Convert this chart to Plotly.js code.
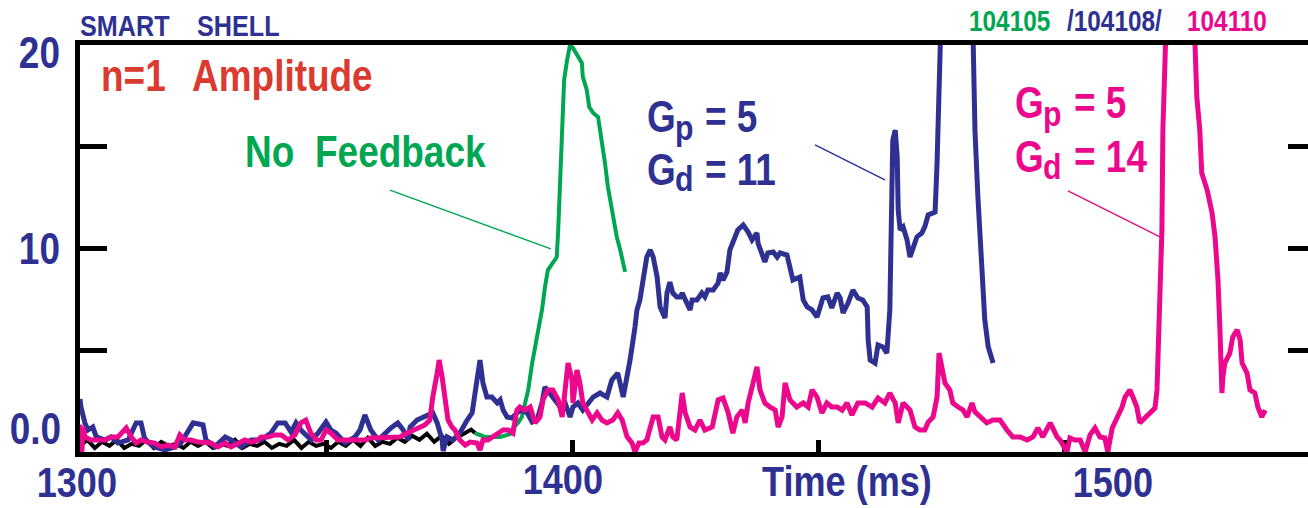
<!DOCTYPE html>
<html>
<head>
<meta charset="utf-8">
<script src="https://cdn.plot.ly/plotly-3.0.1.min.js"></script>
<style>
  html, body { margin: 0; padding: 0; background: #ffffff; overflow: hidden; }
  #chart { width: 1320px; height: 508px; }
</style>
</head>
<body>
<div id="chart"></div>
<script>
// n=1 mode amplitude versus time for three smart-shell discharges.
// Each series is a list of [time (ms), amplitude] samples.

// Reference trace running along the floor before the mode grows.
const baselineTrace = [
  [1300.0,0.3],[1301.5,0.6],[1303.0,0.2],[1304.5,0.5],[1306.0,0.3],[1307.5,0.6],[1309.0,0.2],
  [1310.5,0.4],[1312.0,0.3],[1313.5,0.6],[1315.0,0.2],[1316.5,0.5],[1318.0,0.3],[1319.5,0.4],
  [1321.0,0.2],[1322.5,0.5],[1324.0,0.3],[1325.5,0.5],[1327.0,0.2],[1328.5,0.4],[1330.0,0.3],
  [1331.5,0.6],[1333.0,0.2],[1334.5,0.4],[1336.0,0.3],[1337.5,0.5],[1339.0,0.2],[1340.5,0.4],
  [1342.0,0.3],[1343.5,0.6],[1345.0,0.2],[1346.5,0.5],[1348.0,0.3],[1349.5,0.4],[1351.0,0.2],
  [1352.5,0.5],[1354.0,0.3],[1355.5,0.6],[1357.0,0.3],[1358.5,0.7],[1360.0,0.3],[1361.5,0.5],
  [1363.0,0.4],[1364.5,0.7],[1366.0,0.5],[1367.5,0.8],[1369.0,0.6],[1370.5,0.9],[1372.0,0.5],
  [1373.5,0.8],[1375.0,0.4],[1376.5,0.7],[1378.0,0.9],[1379.5,1.1],[1380.3,0.93]
];

// Shot 104105, no feedback.
const shot104105 = [
  [1380.3,0.93],[1382.3,0.74],[1385.4,0.74],[1387.4,0.88],[1388.0,1.18],[1389.0,1.43],[1389.8,1.72],
  [1390.4,2.41],[1391.1,3.05],[1391.9,4.37],[1392.9,5.65],[1393.9,6.98],[1394.5,8.11],[1395.1,8.94],
  [1396.1,9.29],[1396.9,9.58],[1397.2,10.91],[1397.6,13.37],[1398.0,15.82],[1398.4,18.28],[1399.0,19.26],
  [1399.6,20.0],[1400.2,19.85],[1401.2,19.41],[1402.0,19.12],[1402.2,18.43],[1403.0,17.79],[1403.5,16.95],
  [1404.3,16.66],[1405.3,16.46],[1406.1,15.33],[1406.7,14.2],[1407.3,13.02],[1408.1,11.89],[1409.1,10.57],
  [1409.8,9.93],[1410.8,8.85]
];

// Shot 104108, Gp = 5, Gd = 11.
const shot104108 = [
  [1300.0,2.6],[1300.2,2.2],[1301.0,1.43],[1301.6,1.08],[1302.6,1.23],[1303.3,0.74],[1305.1,0.59],
  [1306.3,0.74],[1307.7,0.44],[1309.8,0.59],[1311.4,1.43],[1312.4,1.43],[1313.2,0.59],[1315.2,0.25],
  [1317.3,0.1],[1319.3,0.25],[1320.5,0.44],[1322.4,1.23],[1323.0,1.43],[1325.0,1.33],[1325.6,0.59],
  [1327.4,0.25],[1329.5,0.74],[1330.7,0.59],[1332.7,0.25],[1334.8,0.59],[1336.8,0.59],[1338.8,0.93],
  [1340.2,1.43],[1341.7,1.43],[1342.9,0.98],[1343.9,1.43],[1344.9,1.08],[1347.0,0.59],[1348.4,0.93],
  [1350.0,1.47],[1351.0,1.08],[1352.0,0.93],[1353.9,0.44],[1355.9,0.74],[1356.9,1.08],[1357.9,1.82],
  [1359.1,1.08],[1360.6,0.59],[1362.0,0.93],[1363.2,1.18],[1364.6,1.43],[1365.7,1.08],[1366.7,0.59],
  [1367.1,1.23],[1368.5,1.57],[1370.1,1.72],[1371.7,1.92],[1372.6,1.43],[1373.6,0.59],[1373.8,0.05],
  [1374.6,0.74],[1375.8,0.59],[1377.2,0.93],[1378.7,1.57],[1379.7,1.92],[1380.3,2.9],[1380.9,4.18],
  [1381.3,4.52],[1381.9,3.39],[1382.7,2.7],[1383.7,2.7],[1384.8,2.41],[1385.4,2.56],[1386.0,2.06],
  [1386.8,1.72],[1387.8,1.67],[1388.8,1.92],[1389.8,2.06],[1390.9,1.92],[1391.9,1.47],[1392.9,1.57],
  [1393.9,2.41],[1394.5,3.19],[1395.5,2.9],[1396.5,2.56],[1397.6,2.21],[1398.6,2.41],[1399.6,1.72],
  [1400.2,2.21],[1401.2,2.41],[1402.2,2.06],[1403.3,2.41],[1404.3,2.7],[1405.7,2.9],[1407.1,2.7],
  [1408.1,3.54],[1409.3,3.88],[1410.4,2.7],[1411.2,3.69],[1411.8,4.52],[1412.8,6.14],[1413.2,6.98],
  [1413.8,7.47],[1414.4,8.45],[1415.2,9.58],[1415.9,9.93],[1416.5,9.58],[1417.3,8.6],[1417.9,7.13],
  [1418.9,6.58],[1419.3,7.81],[1419.9,8.35],[1420.5,7.81],[1421.3,7.62],[1422.0,7.62],[1422.4,7.81],
  [1423.0,7.47],[1424.0,6.98],[1424.4,7.47],[1425.4,7.47],[1426.4,7.81],[1427.0,7.62],[1427.6,7.96],
  [1428.7,7.96],[1429.7,8.3],[1430.1,8.8],[1430.7,8.45],[1431.5,8.85],[1432.1,9.93],[1433.1,10.57],
  [1433.7,10.91],[1434.8,11.15],[1435.8,10.81],[1436.6,10.42],[1437.6,10.76],[1437.8,10.27],[1438.6,9.68],
  [1439.2,9.34],[1439.8,9.78],[1440.9,9.83],[1441.7,9.58],[1442.3,9.78],[1443.7,9.68],[1444.3,8.94],
  [1444.9,8.45],[1446.3,8.6],[1447.0,7.47],[1447.8,7.13],[1448.8,6.98],[1449.8,6.63],[1450.4,7.08],
  [1451.0,7.57],[1452.0,7.62],[1452.8,7.08],[1453.9,7.81],[1454.5,7.57],[1455.1,6.83],[1456.1,7.32],
  [1457.1,7.96],[1458.1,7.57],[1459.1,7.47],[1460.0,7.13],[1460.2,5.5],[1460.6,4.52],[1461.6,4.37],
  [1462.2,5.26],[1463.2,5.16],[1464.0,4.86],[1464.6,6.98],[1465.0,12.53],[1465.2,15.33],[1465.7,15.82],
  [1466.1,14.5],[1466.3,11.89],[1466.7,10.91],[1467.3,11.06],[1468.1,10.42],[1468.7,9.58],[1469.3,10.07],
  [1470.1,10.57],[1471.1,10.76],[1471.7,11.06],[1472.4,11.65],[1473.2,11.74],[1473.8,11.79],[1474.2,14.2],
  [1474.4,17.44],[1474.8,20.1],[1475.2,23.0],[1481.3,23.0],[1481.5,20.1],[1481.9,15.82],[1482.5,12.53],
  [1483.3,9.29],[1483.9,6.49],[1484.6,5.16],[1485.4,4.52],[1485.6,4.37]
];

// Shot 104110, Gp = 5, Gd = 14.
const shot104110 = [
  [1300.0,1.35],[1300.3,-0.4],[1300.6,1.23],[1301.0,0.74],[1302.2,0.59],[1303.7,0.59],[1305.1,0.59],
  [1306.3,0.74],[1307.7,0.74],[1309.4,1.18],[1310.4,0.74],[1311.4,0.44],[1312.4,0.59],[1313.8,0.49],
  [1315.2,0.44],[1316.5,0.25],[1317.9,0.34],[1319.3,0.25],[1320.3,0.84],[1321.3,0.59],[1322.6,0.59],
  [1324.0,0.49],[1325.4,0.49],[1326.6,0.44],[1328.0,0.25],[1329.5,0.44],[1330.7,0.25],[1332.1,0.44],
  [1333.5,0.59],[1334.8,0.49],[1336.2,0.59],[1336.8,0.74],[1338.2,0.74],[1339.6,0.84],[1340.9,0.84],
  [1342.3,0.59],[1343.7,0.84],[1344.9,1.43],[1345.9,1.57],[1346.9,0.93],[1348.0,0.59],[1349.0,0.59],
  [1350.0,1.08],[1351.0,0.93],[1352.4,0.59],[1353.9,0.59],[1355.1,0.59],[1356.5,0.59],[1357.9,0.59],
  [1359.1,0.69],[1360.6,0.69],[1362.0,0.69],[1363.2,0.74],[1364.6,0.69],[1365.0,0.74],[1366.5,0.93],
  [1367.7,1.08],[1369.1,1.23],[1370.1,1.33],[1371.1,1.57],[1371.7,2.7],[1372.6,3.88],[1373.0,4.52],
  [1373.6,3.69],[1374.2,2.7],[1374.8,1.57],[1375.6,1.23],[1376.2,1.08],[1377.2,0.59],[1378.3,0.34],
  [1379.3,0.49],[1380.7,0.44],[1381.3,0.1],[1381.9,0.59],[1382.9,0.59],[1383.9,0.74],[1385.0,0.93],
  [1386.0,1.08],[1387.0,1.08],[1388.0,0.93],[1388.8,2.06],[1389.4,2.21],[1390.4,2.06],[1391.5,2.21],
  [1392.5,1.43],[1393.5,1.72],[1394.1,2.56],[1395.1,3.05],[1396.1,3.05],[1397.2,2.56],[1398.0,1.72],
  [1398.6,3.05],[1399.2,4.37],[1400.0,3.54],[1400.2,2.41],[1401.0,4.03],[1401.6,3.39],[1402.2,2.41],
  [1403.0,2.06],[1404.1,1.57],[1405.1,1.92],[1406.1,1.57],[1407.1,1.43],[1408.3,1.57],[1409.3,1.92],
  [1410.2,1.57],[1411.2,0.74],[1412.2,0.44],[1412.8,0.0],[1413.6,0.44],[1414.4,0.44],[1415.2,0.59],
  [1416.5,1.72],[1417.5,1.72],[1418.3,0.74],[1418.9,0.59],[1419.9,1.23],[1420.5,0.74],[1421.3,0.59],
  [1422.4,2.9],[1423.0,1.92],[1424.0,1.23],[1425.0,1.08],[1426.0,1.57],[1427.0,1.08],[1428.5,1.23],
  [1429.7,2.56],[1430.7,2.65],[1431.7,1.97],[1432.7,0.93],[1433.5,1.72],[1434.6,2.06],[1435.2,1.43],
  [1435.8,2.41],[1436.8,3.39],[1437.6,4.18],[1438.2,3.05],[1439.2,2.41],[1440.2,2.21],[1441.3,2.06],
  [1441.9,1.23],[1442.7,1.72],[1443.3,3.39],[1444.3,2.56],[1445.7,2.21],[1447.0,2.41],[1448.0,2.21],
  [1448.8,3.05],[1449.8,2.7],[1450.8,1.92],[1451.8,2.41],[1452.8,2.21],[1453.9,2.21],[1454.9,2.06],
  [1455.9,2.41],[1456.9,1.82],[1458.1,2.41],[1459.6,2.41],[1461.0,2.21],[1462.2,2.65],[1463.6,2.41],
  [1464.6,2.9],[1465.7,2.41],[1466.3,1.43],[1467.3,2.41],[1468.7,2.06],[1469.7,1.23],[1470.7,1.08],
  [1471.7,1.08],[1472.4,1.47],[1473.4,1.72],[1474.2,2.7],[1474.6,4.86],[1475.2,4.18],[1475.8,3.39],
  [1476.8,3.05],[1477.4,2.41],[1478.5,2.21],[1479.5,2.06],[1480.3,1.72],[1481.3,2.41],[1481.9,1.97],
  [1482.9,1.72],[1484.3,1.43],[1485.6,1.57],[1487.0,1.57],[1488.4,1.08],[1489.6,0.74],[1491.1,0.74],
  [1492.5,0.59],[1493.7,0.74],[1494.7,1.18],[1495.7,0.74],[1497.2,1.43],[1498.6,0.74],[1499.2,0.59],
  [1500.6,0.0],[1501.2,0.69],[1502.2,0.59],[1503.3,0.59],[1504.3,0.0],[1505.3,0.84],[1506.3,1.18],
  [1507.3,0.74],[1508.3,0.69],[1508.9,0.0],[1509.8,1.18],[1510.8,1.72],[1511.8,2.21],[1512.4,2.7],
  [1513.4,3.05],[1514.0,2.7],[1514.8,2.21],[1515.4,1.43],[1516.5,1.72],[1517.5,1.97],[1518.5,2.16],
  [1518.9,3.05],[1519.1,4.37],[1519.5,7.62],[1519.9,10.91],[1520.1,15.82],[1520.5,20.1],[1521.0,23.0],
  [1526.2,23.0],[1526.6,20.1],[1527.0,17.44],[1527.6,15.82],[1528.0,13.71],[1529.1,12.87],[1530.1,11.74],
  [1530.7,10.57],[1531.3,8.45],[1531.7,6.0],[1531.9,4.37],[1532.1,2.9],[1532.3,3.69],[1532.7,4.37],
  [1533.7,4.86],[1534.3,5.65],[1535.2,6.0],[1535.8,5.5],[1536.2,4.37],[1537.2,3.88],[1537.8,3.05],
  [1538.8,2.9],[1539.4,2.21],[1540.2,1.72],[1540.9,2.06]
];

// Axis labelling.
const timeTickText = ['1300', '1400', '1500'];
const ampTickText = ['20', '10', '0.0'];
const shotNames = ['104105', '/104108/', '104110'];

const NAVY = '#2e3192', MAGENTA = '#ec088c', GREEN = '#00a651', RED = '#db3a2f';
const FONT = '"Liberation Sans", Arial, Helvetica, sans-serif';
// Lettering is set in a condensed bold face: glyphs are narrowed to this fraction.
const CONDENSE = 0.84;

// Plot box in page pixels: left 80, top 45, width 1235, height 407.
const BOX = { left: 80, top: 45, w: 1235, h: 407 };
const X_RANGE = [1300, 1300 + BOX.w / 4.92];
const Y_RANGE = [0, 20];

function line(series, color, width) {
  return {
    x: series.map(p => p[0]), y: series.map(p => p[1]),
    type: 'scatter', mode: 'lines', hoverinfo: 'skip', showlegend: false,
    line: { color: color, width: width, shape: 'linear' }
  };
}

// Text placed by page pixel position (left/right/centre edge, vertical middle).
function label(text, px, py, color, size, xanchor) {
  return {
    text: text, showarrow: false,
    xref: 'paper', yref: 'paper',
    x: (px - BOX.left) / BOX.w, y: (BOX.top + BOX.h - py) / BOX.h,
    xanchor: xanchor || 'left', yanchor: 'middle',
    font: { family: FONT, size: size, color: color, weight: 'bold' }
  };
}

// A gain line such as "Gp = 5": letter, lowered subscript, then the value.
function gainLabel(sub, value, gx, subX, eqX, capMid, subMid, color) {
  return [
    label('G', gx, capMid, color, 44),
    label(sub, subX, subMid, color, 36),
    label('= ' + value, eqX, capMid, color, 44)
  ];
}

const traces = [
  line(baselineTrace, '#000000', 4),
  line(shot104105, GREEN, 4),
  line(shot104108, NAVY, 5),
  line(shot104110, MAGENTA, 5)
];

const annotations = [
  label('SMART', 78, 25.5, NAVY, 30),
  label('SHELL', 195, 25.5, NAVY, 30),
  label(shotNames[0], 967, 21, GREEN, 29),
  label(shotNames[1], 1065, 21, NAVY, 29),
  label(shotNames[2], 1185, 21, MAGENTA, 29),
  label(ampTickText[0], 62, 52.5, NAVY, 44, 'right'),
  label(ampTickText[1], 62, 249, NAVY, 44, 'right'),
  label(ampTickText[2], 63, 428.5, NAVY, 44, 'right'),
  label(timeTickText[0], 77, 482, NAVY, 43, 'center'),
  label(timeTickText[1], 563, 479, NAVY, 43, 'center'),
  label(timeTickText[2], 1113, 482, NAVY, 43, 'center'),
  label('Time (ms)', 760, 481, NAVY, 43),
  label('n=1', 99, 75, RED, 44),
  label('Amplitude', 190, 75, RED, 44),
  label('No', 243, 151, GREEN, 44),
  label('Feedback', 313, 151, GREEN, 44)
].concat(
  gainLabel('p', '5', 645, 673, 703, 116, 127, NAVY),
  gainLabel('d', '11', 645, 673, 703, 169, 179, NAVY),
  gainLabel('p', '5', 1013, 1041, 1072, 102.5, 113, MAGENTA),
  gainLabel('d', '14', 1013, 1041, 1072, 156, 166, MAGENTA)
);

// Leader lines from the labels to their curves.
function leader(x0, y0, x1, y1, color) {
  return { type: 'line', xref: 'x', yref: 'y', x0: x0, y0: y0, x1: x1, y1: y1,
           line: { color: color, width: 1.5 }, layer: 'above' };
}
const shapes = [
  leader(1363.0, 12.87, 1395.7, 9.98, GREEN),
  leader(1449.4, 15.09, 1463.6, 13.37, NAVY),
  leader(1500.8, 12.83, 1519.5, 10.57, MAGENTA)
];

const layout = {
  width: 1320, height: 508,
  margin: { l: BOX.left, r: 1320 - BOX.left - BOX.w, t: BOX.top, b: 508 - BOX.top - BOX.h, pad: 0 },
  paper_bgcolor: '#ffffff', plot_bgcolor: '#ffffff',
  showlegend: false,
  xaxis: {
    range: X_RANGE, showgrid: false, zeroline: false,
    showline: true, linecolor: '#000000', linewidth: 5, mirror: true,
    ticks: 'inside', ticklen: 12, tickwidth: 5, tickcolor: '#000000',
    tickvals: [1350, 1400, 1450, 1500], showticklabels: false,
    layer: 'below traces', fixedrange: true
  },
  yaxis: {
    range: Y_RANGE, showgrid: false, zeroline: false,
    showline: true, linecolor: '#000000', linewidth: 5, mirror: 'allticks',
    ticks: 'inside', ticklen: 27, tickwidth: 5, tickcolor: '#000000',
    tickvals: [5, 10, 15], showticklabels: false,
    layer: 'below traces', fixedrange: true
  },
  annotations: annotations,
  shapes: shapes
};

// Narrow each label horizontally about its anchor edge to get the condensed face.
function condenseLabels(gd) {
  gd.querySelectorAll('g.annotation').forEach(g => {
    const idx = +g.getAttribute('data-index');
    const t = g.querySelector('text.annotation-text');
    if (!t || isNaN(idx)) return;
    const bb = t.getBBox();
    const anchor = annotations[idx].xanchor;
    const ax = anchor === 'left' ? bb.x : anchor === 'right' ? bb.x + bb.width : bb.x + bb.width / 2;
    t.setAttribute('transform',
      'translate(' + ax + ',0) scale(' + CONDENSE + ',1) translate(' + (-ax) + ',0)');
  });
}

Plotly.newPlot('chart', traces, layout, { staticPlot: true, displayModeBar: false })
  .then(condenseLabels);
</script>
</body>
</html>
